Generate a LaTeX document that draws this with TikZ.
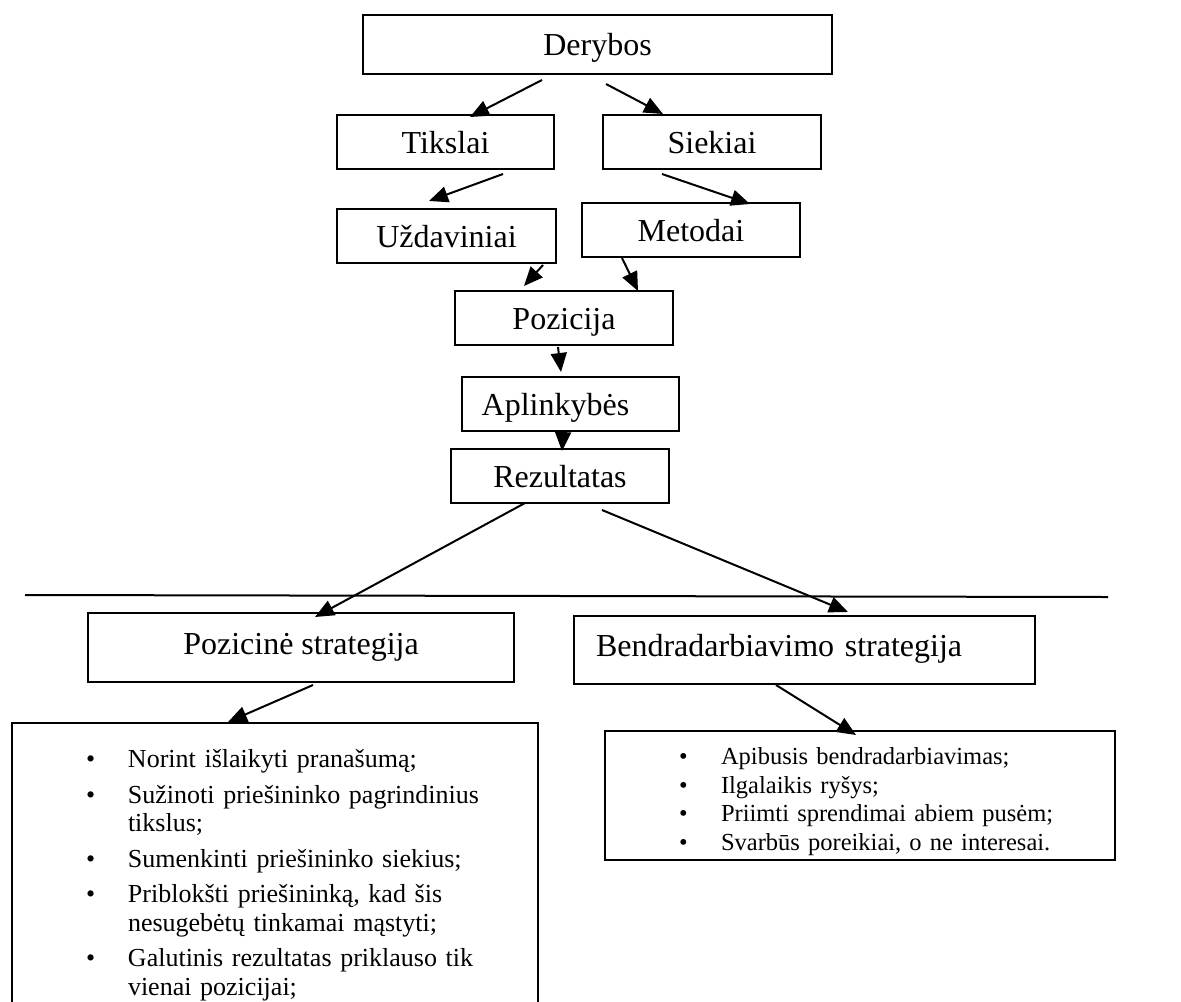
\documentclass[tikz,border=0pt]{standalone}
\usepackage{fontspec}
\setmainfont{Liberation Serif}
\usetikzlibrary{arrows.meta,calc}

\newlength{\tarpas}
\newcommand{\punktas}[1]{\par\noindent\hangindent=58pt\hangafter=1\makebox[58pt][l]{\hspace{37pt}\textbullet}#1\par\vspace{\tarpas}}

\begin{document}
\begin{tikzpicture}[x=0.5pt,y=-0.5pt]
\tikzstyle{every node}+=[inner sep=0pt]
\tikzstyle{blokas}=[draw,line width=1pt,font=\fontsize{16}{19}\selectfont,text height=11pt,text depth=0pt]
\tikzstyle{rodykle}=[line width=1pt,-{Triangle[length=9.5pt,width=8pt]}]
\tikzstyle{sarasas}=[draw,line width=1pt,anchor=north west,align=left,inner xsep=0pt]
\useasboundingbox (0,0) rectangle (1181,1001);
% blokai
\node[blokas,minimum width=234.5pt,minimum height=29.5pt] (derybos) at (597.5,44.5) {Derybos};
\node[blokas,minimum width=108.5pt,minimum height=27pt] (tikslai) at (445.5,142) {Tikslai};
\node[blokas,minimum width=109pt,minimum height=27pt] (siekiai) at (712,142) {Siekiai};
\node[blokas,minimum width=109.5pt,minimum height=27pt] (uzdaviniai) at (446.5,236) {Uždaviniai};
\node[blokas,minimum width=109pt,minimum height=27pt] (metodai) at (691,230) {Metodai};
\node[blokas,minimum width=109pt,minimum height=27pt] (pozicija) at (564,318) {Pozicija};
\node[blokas,minimum width=108.5pt,minimum height=27pt] (aplinkybes) at (570.5,404) {Aplinkybės\kern15pt};
\node[blokas,minimum width=109pt,minimum height=27pt] (rezultatas) at (560,476) {Rezultatas};
\node[blokas,minimum width=213pt,minimum height=34.5pt,text height=10pt,text depth=3.5pt] (pozicine) at (301,647.5) {Pozicinė strategija};
\node[blokas,text width=208.5pt,inner xsep=11pt,align=left,minimum height=34pt,text height=10pt,text depth=3.5pt] (bendr) at (804.5,650) {Bendradarbiavimo strategija};
% sarasai
\node[sarasas,text width=263pt,inner ysep=8pt,font=\fontsize{13}{14.25}\selectfont] (kaire) at (11,722) {\setlength{\tarpas}{3.5pt}\rightskip=12pt plus 1fil
\punktas{Norint išlaikyti pranašumą;}
\punktas{Sužinoti priešininko pagrindinius tikslus;}
\punktas{Sumenkinti priešininko siekius;}
\punktas{Priblokšti priešininką, kad šis nesugebėtų tinkamai mąstyti;}
\punktas{Galutinis rezultatas priklauso tik vienai pozicijai;}};
\node[sarasas,text width=255pt,inner ysep=2.5pt,font=\fontsize{12.25}{14.25}\selectfont] (desine) at (604,730) {\setlength{\tarpas}{0pt}
\punktas{Apibusis bendradarbiavimas;}
\punktas{Ilgalaikis ryšys;}
\punktas{Priimti sprendimai abiem pusėm;}
\punktas{Svarbūs poreikiai, o ne interesai.}};
% skiriamoji linija
\draw[line width=1pt] (25,595) -- (1108,597);
% rodykles
\draw[rodykle] ($(derybos.south)+(-55.5,5)$) -- ($(tikslai.north)+(24.5,3)$);
\draw[rodykle] ($(derybos.south)+(8.5,9)$) -- ($(siekiai.north)+(-49,0)$);
\draw[rodykle] ($(tikslai.south)+(57.5,4)$) -- ($(uzdaviniai.north)+(-17.5,-7)$);
\draw[rodykle] ($(siekiai.south)+(-50,4)$) -- ($(metodai.north)+(59,2)$);
\draw[rodykle] ($(uzdaviniai.south)+(96.5,1)$) -- ($(pozicija.north)+(-40,-4)$);
\draw[rodykle] ($(metodai.south)+(-69,0)$) -- ($(pozicija.north)+(74,1)$);
\draw[rodykle] ($(pozicija.south)+(-6,1)$) -- ($(aplinkybes.north)+(-9.5,-4)$);
\draw[rodykle] ($(aplinkybes.south)+(-7.5,1)$) -- ($(rezultatas.north)+(2,3)$);
\draw[rodykle] ($(rezultatas.south)+(-35,-1)$) -- ($(pozicine.north)+(14,5)$);
\draw[rodykle] ($(rezultatas.south)+(42,6)$) -- ($(bendr.north)+(43.5,-3)$);
\draw[rodykle] ($(pozicine.south)+(12,2)$) -- ($(kaire.north)+(-47,0)$);
\draw[rodykle] ($(bendr.south)+(-28.5,0)$) -- ($(desine.north)+(-4,5)$);
\end{tikzpicture}
\end{document}
